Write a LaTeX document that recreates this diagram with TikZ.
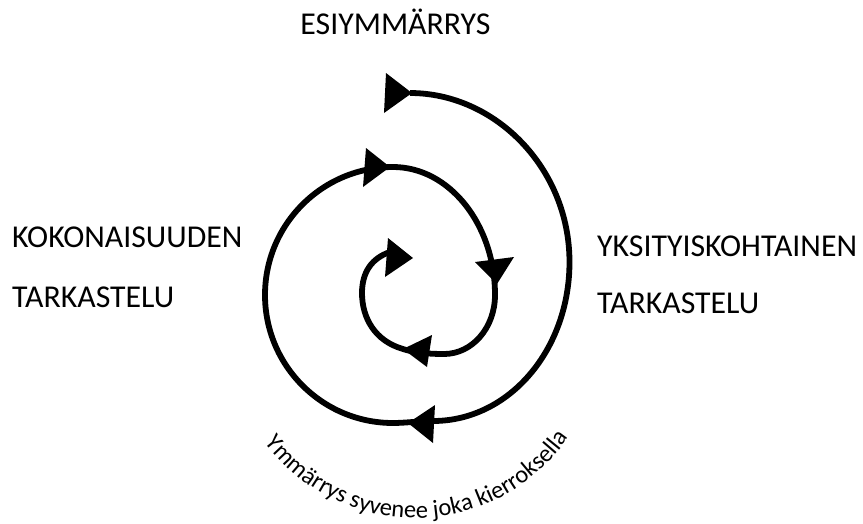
\documentclass[tikz,border=0pt]{standalone}
\usepackage{fontspec}
\setmainfont{Carlito}
\usetikzlibrary{decorations.text}
\begin{document}
\begin{tikzpicture}[x=1pt,y=-1pt,
  spiral/.style={line width=5.8pt, line join=round},
  head/.style={fill=black},
  lab/.style={inner sep=0pt, font=\fontsize{31.8}{31.8}\selectfont},
]
\useasboundingbox (0,0) rectangle (863,523);

% spiral (one continuous clockwise curve, winding inward)
\draw[spiral] (410,93) .. controls (495,93) and (569.5,168) .. (569.5,262)
  .. controls (569.5,350) and (509,421) .. (433,421)
  .. controls (420,421) and (405,423) .. (393,423)
  .. controls (322.3,423) and (265,365.7) .. (265,295)
  .. controls (265,224.3) and (322.3,167) .. (393,167)
  .. controls (449.3,167) and (495,224.3) .. (495,295)
  .. controls (495,328) and (472,354) .. (444,354)
  .. controls (425,354) and (412,352) .. (403,349)
  .. controls (375,341) and (362,318) .. (362,293)
  .. controls (362,272) and (372,258) .. (390,252);

% arrowheads
\coordinate (t1) at (412,93);  \coordinate (a1) at (386,73);  \coordinate (b1) at (384,113);
\coordinate (t2) at (390,167); \coordinate (a2) at (366,148); \coordinate (b2) at (363,187);
\coordinate (t3) at (497,284); \coordinate (a3) at (475,262); \coordinate (b3) at (514,257);
\coordinate (t4) at (403,349); \coordinate (a4) at (432,335); \coordinate (b4) at (427,367);
\coordinate (t5) at (408,423); \coordinate (a5) at (435,405); \coordinate (b5) at (433,443);
\coordinate (t6) at (413,258); \coordinate (a6) at (388,238); \coordinate (b6) at (385,277);
\foreach \i in {1,...,6}{\fill[head] (t\i) -- (a\i) -- (b\i) -- cycle;}

% labels
\node[lab, anchor=base] (pre) at (395.5,34.3) {ESIYMMÄRRYS};
\node[lab, anchor=base west] (wh1) at (12,247.3) {KOKONAISUUDEN};
\node[lab, anchor=base west] (wh2) at (12,307.7) {TARKASTELU};
\node[lab, anchor=base west] (pa1) at (597,256.7) {YKSITYISKOHTAINEN};
\node[lab, anchor=base west] (pa2) at (597,313) {TARKASTELU};

% curved caption
\path[decorate, decoration={text along path, text align=center,
  text={|\fontsize{24.5}{24.5}\selectfont|Ymmärrys syvenee joka kierroksella}}]
  (415,331) ++(152:187) arc[start angle=152, end angle=26, radius=187];
\end{tikzpicture}
\end{document}
